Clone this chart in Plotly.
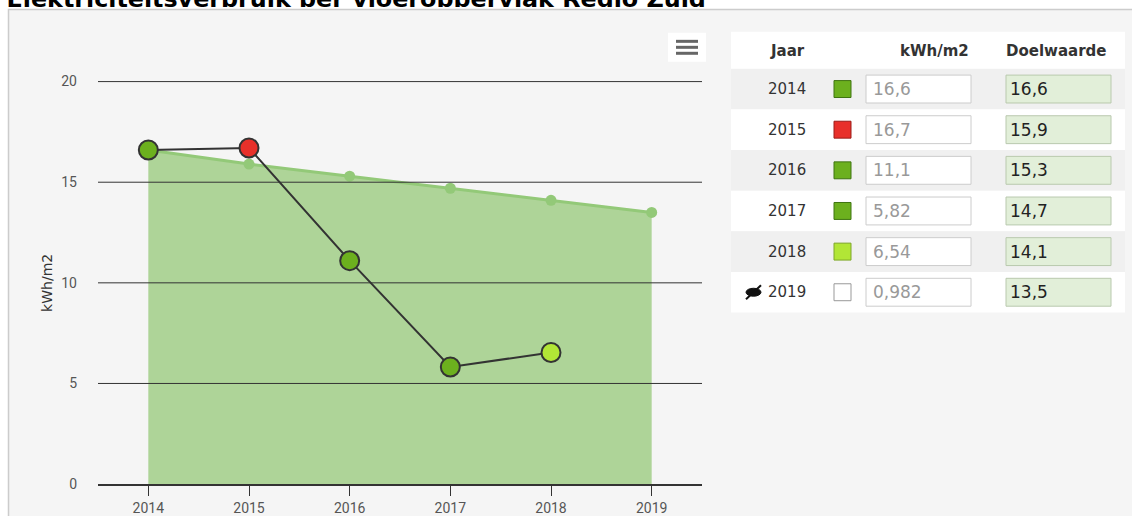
import plotly.graph_objects as go

W, H = 1132, 516
HE = 508  # effectieve hoogte van het papier in de browser

years = [2014, 2015, 2016, 2017, 2018, 2019]
doelwaarde = [16.6, 15.9, 15.3, 14.7, 14.1, 13.5]
verbruik = [16.6, 16.7, 11.1, 5.82, 6.54]
verbruik_txt = ['16,6', '16,7', '11,1', '5,82', '6,54', '0,982']
doel_txt = ['16,6', '15,9', '15,3', '14,7', '14,1', '13,5']
kleuren = ['#6cb01e', '#e8302a', '#6cb01e', '#6cb01e', '#b2e636', '#ffffff']
randen = ['#3f7411', '#9b1d18', '#3f7411', '#3f7411', '#7ea62a', '#999999']
y_ticks = [0, 5, 10, 15, 20]

title = 'Elektriciteitsverbruik per vloeroppervlak Regio Zuid'
tick_font = 'Roboto, sans-serif'
tbl_font = 'DejaVu Sans, Verdana, sans-serif'


def px(x):
    return x / W


def py(y):
    return 1 - y / HE


fig = go.Figure()

# doelwaarde als gevuld vlak
fig.add_trace(go.Scatter(x=years, y=doelwaarde, mode='lines+markers', fill='tozeroy',
                         fillcolor='rgba(150,200,120,0.75)',
                         line=dict(color='#93c978', width=3),
                         marker=dict(size=11, color='#93c978'),
                         cliponaxis=False, hoverinfo='skip', showlegend=False))

# werkelijk verbruik
fig.add_trace(go.Scatter(x=years[:5], y=verbruik, mode='lines+markers',
                         line=dict(color='#333333', width=2),
                         marker=dict(size=19, color=kleuren[:5], line=dict(color='#333333', width=2)),
                         cliponaxis=False, showlegend=False))

# titel, bovenkant valt buiten beeld (afgesneden zoals in het origineel)
fig.add_trace(go.Scatter(x=[6.5], y=[1], mode='text', text=['<b>' + title + '</b>'],
                         textposition='middle right', cliponaxis=True,
                         textfont=dict(family=tbl_font, size=23.8, color='#000000'),
                         xaxis='x2', yaxis='y2', hoverinfo='skip', showlegend=False))

shapes = [dict(type='rect', xref='paper', yref='paper', x0=px(8.5), x1=px(1140), y0=py(9.5), y1=py(540),
               fillcolor='#f5f5f5', line=dict(color='#cccccc', width=1.5), layer='below')]
ann = []

# rasterlijnen boven het vlak
for v in y_ticks[1:]:
    shapes.append(dict(type='line', xref='paper', yref='y', x0=px(98), x1=px(702), y0=v, y1=v,
                       line=dict(color='#333333', width=1), layer='above'))

# menu knop
shapes.append(dict(type='rect', xref='paper', yref='paper', x0=px(668), x1=px(706), y0=py(33), y1=py(62),
                   fillcolor='#ffffff', line=dict(width=0)))
for yy in (41.5, 47.5, 53.5):
    shapes.append(dict(type='line', xref='paper', yref='paper', x0=px(676), x1=px(698), y0=py(yy), y1=py(yy),
                       line=dict(color='#666666', width=3)))

# tabel
x0t, x1t = 731, 1125
shapes.append(dict(type='rect', xref='paper', yref='paper', x0=px(x0t), x1=px(x1t), y0=py(32), y1=py(69),
                   fillcolor='#ffffff', line=dict(width=0)))
hdr = dict(family=tbl_font, size=15, color='#333333')
ann.append(dict(text='<b>Jaar</b>', x=px(787), y=py(51), xanchor='center', font=hdr))
ann.append(dict(text='<b>kWh/m2</b>', x=px(971), y=py(51), xanchor='right', font=hdr))
ann.append(dict(text='<b>Doelwaarde</b>', x=px(1056), y=py(51), xanchor='center', font=hdr))
rh = 40.8
for i, yr in enumerate(years):
    top = 69 + i * rh
    mid = top + rh / 2
    shapes.append(dict(type='rect', xref='paper', yref='paper', x0=px(x0t), x1=px(x1t), y0=py(top), y1=py(top + rh),
                       fillcolor='#f0f0f0' if i % 2 == 0 else '#ffffff', line=dict(width=0), layer='below'))
    ann.append(dict(text=str(yr), x=px(787), y=py(mid), xanchor='center',
                    font=dict(family=tbl_font, size=15, color='#333333')))
    shapes.append(dict(type='rect', xref='paper', yref='paper', x0=px(834), x1=px(851), y0=py(mid - 8.5),
                       y1=py(mid + 8.5), fillcolor=kleuren[i], line=dict(color=randen[i], width=1)))
    shapes.append(dict(type='rect', xref='paper', yref='paper', x0=px(866), x1=px(971), y0=py(mid - 14),
                       y1=py(mid + 14), fillcolor='#ffffff', line=dict(color='#cccccc', width=1)))
    ann.append(dict(text=verbruik_txt[i], x=px(871), y=py(mid), xanchor='left',
                    font=dict(family=tbl_font, size=17, color='#999999')))
    shapes.append(dict(type='rect', xref='paper', yref='paper', x0=px(1006), x1=px(1111), y0=py(mid - 14),
                       y1=py(mid + 14), fillcolor='#e2efd9', line=dict(color='#b9c9ae', width=1)))
    ann.append(dict(text=doel_txt[i], x=px(1008), y=py(mid), xanchor='left',
                    font=dict(family=tbl_font, size=17, color='#222222')))

# oog-doorgestreept icoon bij 2019
mid19 = 69 + 5 * rh + rh / 2
shapes.append(dict(type='circle', xref='paper', yref='paper', x0=px(746), x1=px(761), y0=py(mid19 - 4),
                   y1=py(mid19 + 4), fillcolor='#111111', line=dict(color='#111111', width=1)))
shapes.append(dict(type='line', xref='paper', yref='paper', x0=px(746), x1=px(761), y0=py(mid19 + 7),
                   y1=py(mid19 - 7), line=dict(color='#111111', width=2)))

for a in ann:
    a.setdefault('xref', 'paper')
    a.setdefault('yref', 'paper')
    a.setdefault('yanchor', 'middle')
    a.setdefault('showarrow', False)

ann.append(dict(text='kWh/m2', xref='paper', yref='paper', x=px(37), y=py(284), textangle=-90,
                showarrow=False, font=dict(family=tbl_font, size=14, color='#333333')))

fig.update_layout(
    width=W, height=H, margin=dict(l=0, r=0, t=0, b=0),
    paper_bgcolor='#ffffff', plot_bgcolor='rgba(0,0,0,0)',
    shapes=shapes, annotations=ann,
    xaxis=dict(domain=[px(98), px(702)], range=[2013.5, 2019.5], tickvals=years,
               showgrid=False, zeroline=False, showline=True, linecolor='#333333', linewidth=1.5,
               ticks='outside', ticklen=10, tickcolor='#333333', layer='above traces',
               tickfont=dict(family=tick_font, size=14, color='#555555')),
    yaxis=dict(domain=[py(486), py(41.5)], range=[0, 22], tickvals=y_ticks,
               showgrid=False, zeroline=False, ticklabelstandoff=20,
               tickfont=dict(family=tick_font, size=14, color='#555555')),
    xaxis2=dict(domain=[0, 1], range=[0, W], visible=False, anchor='y2'),
    yaxis2=dict(domain=[py(7), 1], range=[7, 0], visible=False, anchor='x2'),
)

fig.write_html('out.html', config={'displayModeBar': False},
               post_script="document.body.style.margin='0';document.body.style.overflow='hidden';")
